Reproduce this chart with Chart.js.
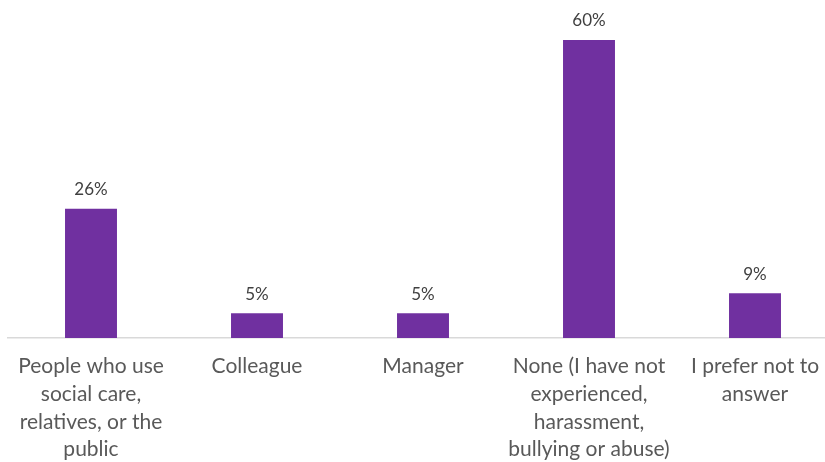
<!DOCTYPE html>
<html>
<head>
<meta charset="utf-8">
<script src="https://cdn.jsdelivr.net/npm/chart.js@4/dist/chart.umd.min.js"></script>
<style>
  html, body { margin: 0; padding: 0; background: #ffffff; overflow: hidden; }
  #wrap { position: relative; width: 838px; height: 478px; }
</style>
</head>
<body>
<div id="wrap"><canvas id="chart"></canvas></div>
<script>
// Who the harassment, bullying or abuse came from (share of respondents)
const categories = [
  ["People who use", "social care,", "relatives, or the", "public"],
  ["Colleague"],
  ["Manager"],
  ["None (I have not", "experienced,", "harassment,", "bullying or abuse)"],
  ["I prefer not to", "answer"]
];
const percentages = [26, 5, 5, 60, 9];
const valueLabels = ["26%", "5%", "5%", "60%", "9%"];

// Writes the percentage above each bar
const barValueLabels = {
  id: "barValueLabels",
  afterDatasetsDraw(chart) {
    const ctx = chart.ctx;
    const meta = chart.getDatasetMeta(0);
    ctx.save();
    ctx.font = "17px Lato, sans-serif";
    ctx.fillStyle = "#404040";
    ctx.textAlign = "center";
    ctx.textBaseline = "middle";
    meta.data.forEach((bar, i) => {
      ctx.fillText(valueLabels[i], bar.x, bar.y - 19);
    });
    ctx.restore();
  }
};

new Chart(document.getElementById("chart"), {
  type: "bar",
  data: {
    labels: categories,
    datasets: [{
      data: percentages,
      backgroundColor: "#7030A0",
      borderWidth: 0,
      categoryPercentage: 1,
      barPercentage: 0.313
    }]
  },
  options: {
    responsive: true,
    maintainAspectRatio: false,
    animation: false,
    layout: { padding: { left: 8, right: 0, top: 40, bottom: 0 } },
    plugins: {
      legend: { display: false },
      tooltip: { enabled: false }
    },
    scales: {
      y: {
        display: false,
        min: 0,
        max: 60
      },
      x: {
        grid: { display: false, drawTicks: false },
        border: { color: "#d9d9d9", width: 1.5 },
        ticks: {
          color: "#595959",
          font: { family: "Lato, sans-serif", size: 21, lineHeight: 1.31 },
          padding: 15,
          maxRotation: 0,
          autoSkip: false
        }
      }
    }
  },
  plugins: [barValueLabels]
});
</script>
</body>
</html>
